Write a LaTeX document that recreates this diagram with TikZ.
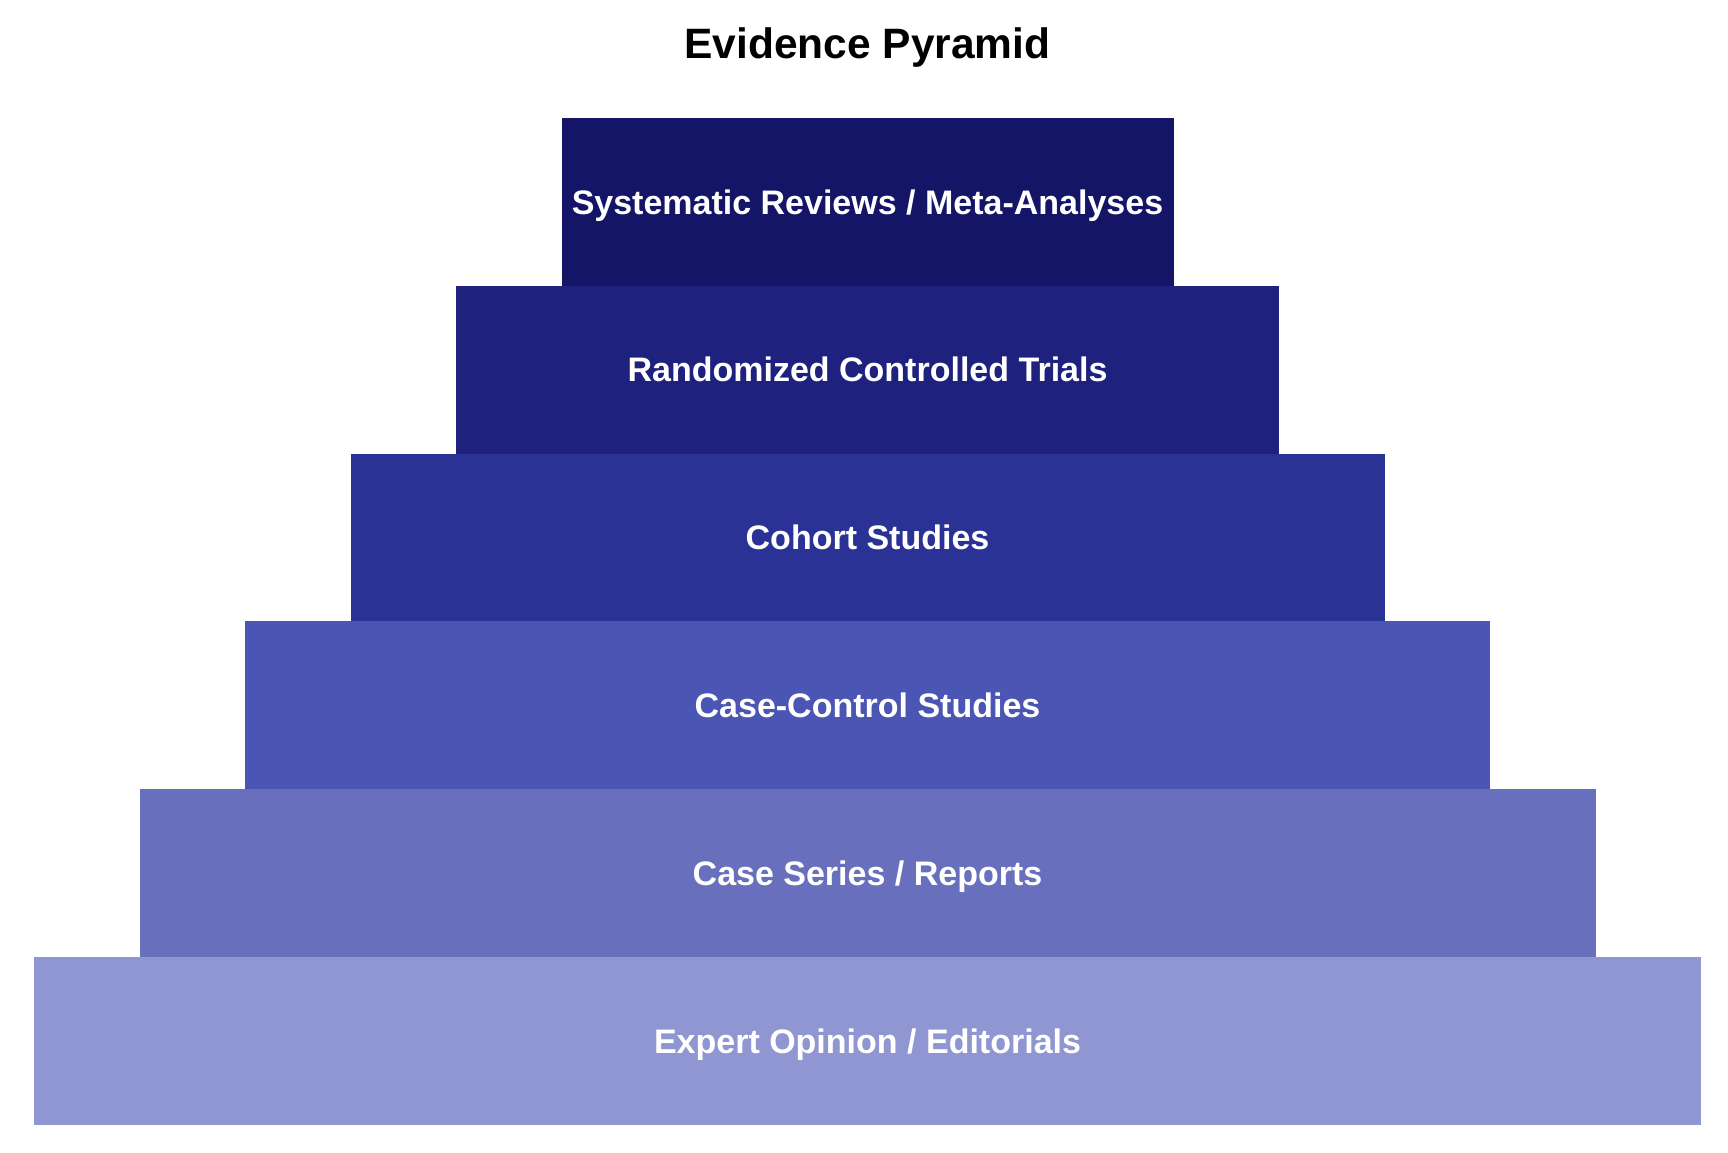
\documentclass[tikz,border=0pt]{standalone}
\usepackage{fontspec}
\setmainfont{Liberation Sans}
\definecolor{tierA}{HTML}{151568}
\definecolor{tierB}{HTML}{1F217E}
\definecolor{tierC}{HTML}{2B3296}
\definecolor{tierD}{HTML}{4A55B4}
\definecolor{tierE}{HTML}{6870BE}
\definecolor{tierF}{HTML}{8F96D2}
\tikzstyle{tier} = [rectangle, minimum height=83.9pt, inner sep=0pt, text height=12.2pt, text depth=0pt, text centered, text=white, font=\bfseries\fontsize{17}{20}\selectfont]
\tikzstyle{heading} = [inner sep=0pt, text height=15.2pt, text depth=0pt, font=\bfseries\fontsize{21.25}{25}\selectfont]

\begin{document}
\begin{tikzpicture}[node distance=83.9pt]
\useasboundingbox (0,0) rectangle (864pt,-576pt);

%Title
\node (title) [heading] at (433.75pt,-21.4pt) {Evidence Pyramid};

%Tiers, bottom to top
\node (expert) [tier, fill=tierF, minimum width=833.5pt] at (433.75pt,-520.4pt) {Expert Opinion / Editorials};
\node (series) [tier, fill=tierE, minimum width=728pt, above of=expert] {Case Series / Reports};
\node (casecontrol) [tier, fill=tierD, minimum width=622.5pt, above of=series] {Case-Control Studies};
\node (cohort) [tier, fill=tierC, minimum width=517pt, above of=casecontrol] {Cohort Studies};
\node (rct) [tier, fill=tierB, minimum width=411.5pt, above of=cohort] {Randomized Controlled Trials};
\node (sysrev) [tier, fill=tierA, minimum width=306pt, above of=rct] {Systematic Reviews / Meta-Analyses};

\end{tikzpicture}
\end{document}
